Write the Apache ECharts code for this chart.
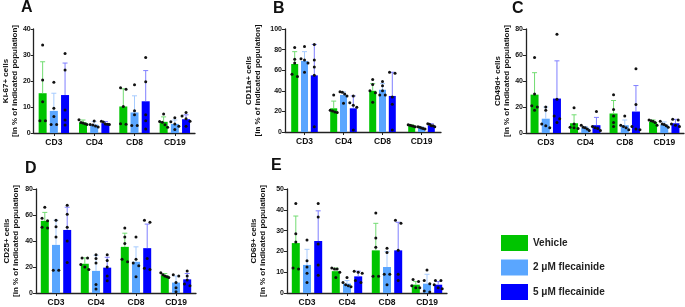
<!DOCTYPE html>
<html>
<head>
<meta charset="utf-8">
<title></title>
<style>html,body{margin:0;padding:0;background:#fff}</style>
</head>
<body>
<div id="container" style="width:685px;height:307px;"></div>
<script src="https://cdn.jsdelivr.net/npm/echarts@6/dist/echarts.min.js"></script>
<script>
'use strict'

var categories = ['CD3', 'CD4', 'CD8', 'CD19'];
var groupNames = ['Vehicle', '2 μM flecainide', '5 μM flecainide'];

// A - Ki-67+ ; rows = Vehicle, 2 uM, 5 uM ; columns = CD3, CD4, CD8, CD19
var ki67Mean = [[15.3, 4.0, 10.2, 4.3], [8.5, 3.2, 7.9, 3.5], [14.6, 3.8, 12.2, 5.3]];
var ki67Upper = [[27.4, 5.0, 17.0, 6.2], [15.3, 4.4, 14.3, 5.0], [26.9, 4.4, 24.0, 7.0]];
var ki67Dots = [
	[[33.8, 20.4, 12.0, 4.7, 4.7], [5.1, 4.0, 3.8, 3.6, 3.3], [17.4, 16.8, 10.2, 3.6, 3.4], [7.3, 4.4, 4.1, 3.2, 2.2]],
	[[19.5, 9.5, 6.3, 3.3, 3.3], [4.6, 3.3, 3.1, 2.7, 2.3], [18.6, 8.6, 7.0, 2.9, 2.9], [5.9, 4.3, 3.5, 2.6, 1.3]],
	[[30.6, 24.2, 8.8, 5.0, 3.1], [4.5, 4.2, 3.5, 3.4, 3.3], [29.0, 19.7, 7.0, 4.7, 1.5], [7.9, 6.5, 5.5, 4.5, 2.6]]
];

// B - CD11a+
var cd11aMean = [[66, 23, 40, 6], [69, 36, 41, 4], [55, 23, 35, 6.5]];
var cd11aUpper = [[78, 30, 47, 7], [78, 39, 47, 5], [85, 35, 58, 8]];
var cd11aDots = [
	[[82, 70.7, 67, 56, 54], [36, 21, 20.5, 19.5, 19], [51, 46, 40, 38, 29], [7, 6.5, 6, 5.5, 5]],
	[[83, 71, 70, 67, 58], [39, 38.5, 37, 35, 28], [49, 45, 40, 36, 36], [5, 4.5, 4, 3.5, 3]],
	[[85, 70, 63, 55, 5], [35, 28.5, 26, 24, 2], [58, 57, 34, 27, 2], [8, 7.5, 6, 6, 5]]
];

// C - CD49d+
var cd49dMean = [[29.5, 7.5, 15, 8.5], [11, 4, 6, 6.5], [26.5, 6, 16.5, 7.5]];
var cd49dUpper = [[46.4, 14, 25, 10], [20, 5, 10, 8.5], [55.5, 12, 36.5, 10.5]];
var cd49dDots = [
	[[58, 30, 21, 20, 17.5], [19.5, 7, 4.5, 4, 3.5], [29.5, 18, 13, 8, 5], [10, 9.5, 9, 8, 6]],
	[[20, 17.5, 7, 5.5, 4], [6, 4.5, 4, 3, 2], [13, 6, 5, 4, 2.5], [9, 7, 6.5, 5.5, 4.5]],
	[[76, 26, 13, 11, 8], [16.5, 5, 4, 3.5, 2], [49.5, 22, 5, 3, 2.5], [10.5, 10, 7, 6, 5]]
];

// D - CD25+
var cd25Mean = [[55.5, 22.5, 35.5, 13.5], [37, 17, 24, 8], [48.5, 19.5, 34.5, 10.5]];
var cd25Upper = [[62, 27, 46, 15], [56, 29, 35.5, 13], [66, 27.5, 53, 15]];
var cd25Dots = [
	[[66, 57.5, 55.5, 50.5, 50], [27, 27, 22, 20, 18], [50, 43, 38, 26, 24], [15.5, 14, 13, 12.5, 12]],
	[[56, 51, 43, 17.5, 17.5], [29.5, 26.5, 23, 6.5, 3], [43, 26, 23, 21, 12.5], [14, 13, 8, 4, 1]],
	[[67.5, 60.5, 50.5, 40, 23.5], [29.5, 25, 20, 13, 9.5], [56, 54.5, 26.5, 19, 18], [17, 13, 10, 7, 5.5]]
];

// E - CD69+
var cd69Mean = [[24, 10.5, 20.5, 4], [13.5, 4.5, 12.5, 4.5], [25, 8, 20.5, 4]];
var cd69Upper = [[37, 12, 33.5, 5.5], [21, 6, 20, 9], [39.5, 10.5, 34, 5.5]];
var cd69Dots = [
	[[43, 28.5, 24.5, 12, 11.5], [12, 11.5, 11.5, 10, 7.5], [38.5, 26.5, 22, 8, 8], [6.5, 5.5, 3.5, 2.5, 2.5]],
	[[25.5, 15.5, 12.5, 9.5, 5], [7.5, 5, 4, 3.5, 3], [21.5, 19.5, 9, 9, 4], [11, 6, 4.5, 1, 0.5]],
	[[43, 36.5, 23.5, 13.5, 8.5], [10.5, 10, 9.5, 6, 5], [35, 33.5, 20.5, 9, 6], [6, 6, 4, 2.5, 2]]
];

var barColors = ['#00c400', '#5aa6ff', '#0000ff'];
var errColors = ['#72dc72', '#a6cbff', '#7f7fff'];
var font = "'Liberation Sans', Arial, sans-serif";

var panels = [
	{ letter: 'A', name: 'Ki-67+ cells', mean: ki67Mean, upper: ki67Upper, dots: ki67Dots, max: 40, step: 10,
		grid: { left: 33, top: 29, width: 162, height: 104 }, nameGap: 14, lx: 21, ly: 0, bw: 8 },
	{ letter: 'B', name: 'CD11a+ cells', mean: cd11aMean, upper: cd11aUpper, dots: cd11aDots, max: 100, step: 20,
		grid: { left: 285, top: 29, width: 156, height: 103 }, nameGap: 23, lx: 273, ly: 1, bw: 7 },
	{ letter: 'C', name: 'CD49d+ cells', mean: cd49dMean, upper: cd49dUpper, dots: cd49dDots, max: 80, step: 20,
		grid: { left: 526, top: 29, width: 158, height: 104 }, nameGap: 8, lx: 512, ly: 1, bw: 8 },
	{ letter: 'D', name: 'CD25+ cells', mean: cd25Mean, upper: cd25Upper, dots: cd25Dots, max: 80, step: 20,
		grid: { left: 36, top: 189, width: 160, height: 104 }, nameGap: 16, lx: 25, ly: 161, bw: 8 },
	{ letter: 'E', name: 'CD69+ cells', mean: cd69Mean, upper: cd69Upper, dots: cd69Dots, max: 50, step: 10,
		grid: { left: 287, top: 189, width: 160, height: 105 }, nameGap: 20, lx: 271, ly: 158, bw: 8 }
];

function makeRender(g, bw) {
	var pitch = bw * 1.4;
	return function (params, api) {
		var k = api.value(0);
		var base = api.coord([k, api.value(1)]);
		var x = base[0] + (g - 1) * pitch;
		var yUp = api.coord([k, api.value(2)])[1];
		var children = [
			{ type: 'line', shape: { x1: x, y1: base[1], x2: x, y2: yUp }, style: { stroke: errColors[g], lineWidth: 1 } },
			{ type: 'line', shape: { x1: x - 2.5, y1: yUp, x2: x + 2.5, y2: yUp }, style: { stroke: errColors[g], lineWidth: 1 } }
		];
		// spread dots that sit at about the same height
		var pts = [];
		for (var d = 3; d < 8; d++) {
			pts.push(api.coord([k, api.value(d)])[1]);
		}
		pts.sort(function (a, b) { return a - b; });
		var clusters = [[pts[0]]];
		for (var i = 1; i < pts.length; i++) {
			var cur = clusters[clusters.length - 1];
			if (pts[i] - cur[cur.length - 1] < 3.2) cur.push(pts[i]);
			else clusters.push([pts[i]]);
		}
		clusters.forEach(function (c) {
			var n = c.length;
			var s = n > 1 ? Math.min(5.5, bw / (n - 1)) : 0;
			c.forEach(function (py, j) {
				children.push({
					type: 'circle',
					shape: { cx: x + (j - (n - 1) / 2) * s, cy: py, r: 1.5 },
					style: { fill: '#111' }
				});
			});
		});
		return { type: 'group', children: children };
	};
}

var grids = [], xAxes = [], yAxes = [], titles = [], series = [];
panels.forEach(function (p, i) {
	grids.push(p.grid);
	titles.push({
		text: p.letter, left: p.lx, top: p.ly, padding: 0,
		textStyle: { fontFamily: font, fontSize: 16, fontWeight: 'bold', color: '#111' }
	});
	xAxes.push({
		type: 'category', gridIndex: i, data: categories,
		axisLine: { lineStyle: { color: '#222', width: 1.3 } },
		axisTick: { show: true, alignWithLabel: true, length: 3, lineStyle: { color: '#222' } },
		axisLabel: { fontFamily: font, fontSize: 8.5, fontWeight: 'bold', color: '#111', margin: 5 }
	});
	yAxes.push({
		type: 'value', gridIndex: i, min: 0, max: p.max, interval: p.step,
		name: p.name + '\n[in % of indicated population]',
		nameLocation: 'middle', nameGap: p.nameGap,
		nameTextStyle: { fontFamily: font, fontSize: 8, fontWeight: 'bold', color: '#111', lineHeight: 9 },
		axisLine: { show: true, lineStyle: { color: '#222', width: 1.3 } },
		axisTick: { show: true, length: 3, lineStyle: { color: '#222' } },
		splitLine: { show: false },
		axisLabel: { fontFamily: font, fontSize: 7, fontWeight: 'bold', color: '#111', margin: 3 }
	});
	for (var g = 0; g < 3; g++) {
		series.push({
			type: 'bar', name: groupNames[g], xAxisIndex: i, yAxisIndex: i,
			data: p.mean[g], barWidth: p.bw, barGap: '40%',
			itemStyle: { color: barColors[g] }, z: 2, silent: true
		});
		series.push({
			type: 'custom', name: 'points ' + p.letter + g, xAxisIndex: i, yAxisIndex: i,
			data: categories.map(function (c, k) {
				return [k, p.mean[g][k], p.upper[g][k]].concat(p.dots[g][k]);
			}),
			encode: { x: 0, y: [1, 2, 3, 4, 5, 6, 7] },
			renderItem: makeRender(g, p.bw), z: 3, silent: true
		});
	}
});

var myCharts = echarts.init(document.getElementById('container'), null, { renderer: 'canvas' });
myCharts.setOption({
	animation: false,
	title: titles,
	grid: grids,
	xAxis: xAxes,
	yAxis: yAxes,
	legend: {
		data: groupNames, orient: 'vertical', left: 501, top: 235, padding: 0, height: 72,
		itemWidth: 27, itemHeight: 16, itemGap: 8.5, icon: 'rect', selectedMode: false,
		textStyle: { fontFamily: font, fontSize: 10, fontWeight: 'bold', color: '#222' }
	},
	series: series
});
</script>
</body>
</html>
